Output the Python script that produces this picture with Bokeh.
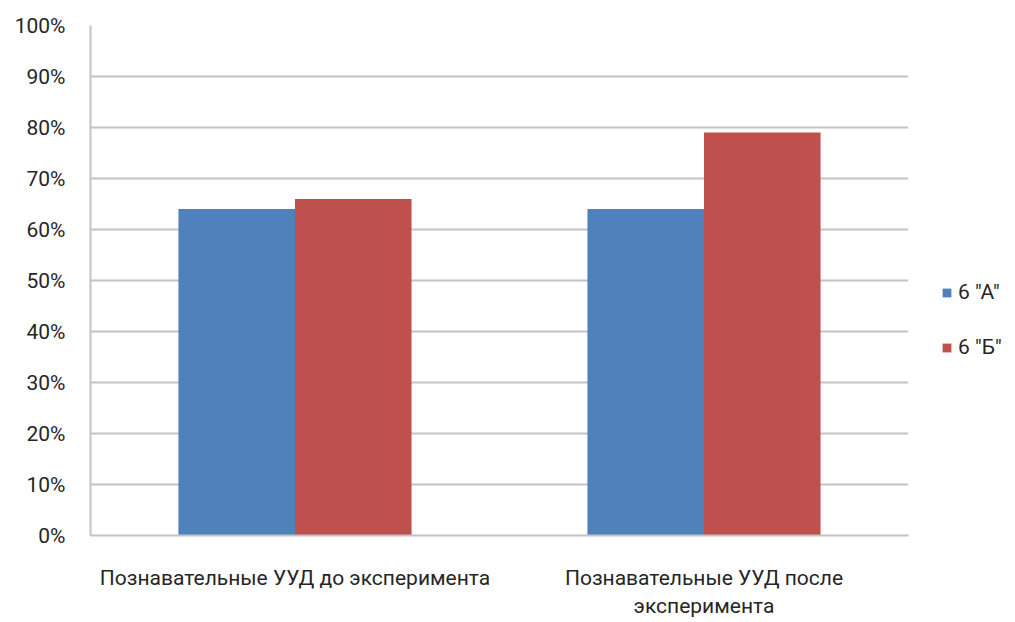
from bokeh.plotting import figure
from bokeh.models import ColumnDataSource, FactorRange, Range1d, FixedTicker, NumeralTickFormatter, Legend, LegendItem
from bokeh.transform import dodge
from bokeh.embed import file_html
from bokeh.resources import INLINE

categories = ["Познавательные УУД до эксперимента", "Познавательные УУД после\nэксперимента"]
series_names = ['6 "А"', '6 "Б"']
values_a = [0.64, 0.64]
values_b = [0.66, 0.79]
y_ticks = [0.0, 0.1, 0.2, 0.3, 0.4, 0.5, 0.6, 0.7, 0.8, 0.9, 1.0]
colors = ["#4F81BD", "#C0504D"]

FONT = "Roboto"
FS = "21px"
TXT = "#262626"

src = ColumnDataSource(dict(cat=categories, a=values_a, b=values_b))

p = figure(x_range=FactorRange(*categories, range_padding=0.0), y_range=Range1d(0, 1),
           frame_width=818, frame_height=510,
           min_border_left=90, min_border_top=25, min_border_right=100, min_border_bottom=80,
           output_backend="svg", toolbar_location=None)
p.x_range.factor_padding = 0

bw = 0.285
ra = p.vbar(x=dodge("cat", -bw / 2, range=p.x_range), top="a", width=bw, source=src,
            fill_color=colors[0], line_color=None)
rb = p.vbar(x=dodge("cat", bw / 2, range=p.x_range), top="b", width=bw, source=src,
            fill_color=colors[1], line_color=None)

p.outline_line_color = None
p.background_fill_color = "white"
p.border_fill_color = "white"

p.xgrid.grid_line_color = None
p.ygrid.grid_line_color = "#c4c4c4"
p.ygrid.grid_line_width = 2
p.ygrid.ticker = FixedTicker(ticks=y_ticks)

p.yaxis.ticker = FixedTicker(ticks=y_ticks)
p.yaxis.formatter = NumeralTickFormatter(format="0%")
for ax in (p.xaxis[0], p.yaxis[0]):
    ax.axis_line_color = "#c4c4c4"
    ax.axis_line_width = 2
    ax.major_tick_line_color = None
    ax.minor_tick_line_color = None
    ax.major_label_text_font = FONT
    ax.major_label_text_font_size = FS
    ax.major_label_text_color = TXT
p.yaxis.major_label_standoff = 19
p.xaxis.major_label_standoff = 24

legend = Legend(items=[LegendItem(label=series_names[0], renderers=[ra]),
                       LegendItem(label=series_names[1], renderers=[rb])],
                location=(33, 176), orientation="vertical")
legend.padding = 0
legend.margin = 0
legend.border_line_color = None
legend.background_fill_alpha = 0
legend.glyph_width = 11
legend.glyph_height = 11
legend.label_standoff = 6
legend.spacing = 31
legend.label_text_font = FONT
legend.label_text_font_size = FS
legend.label_text_color = TXT
p.add_layout(legend, "right")

open("out.html", "w").write(file_html(p, INLINE))
